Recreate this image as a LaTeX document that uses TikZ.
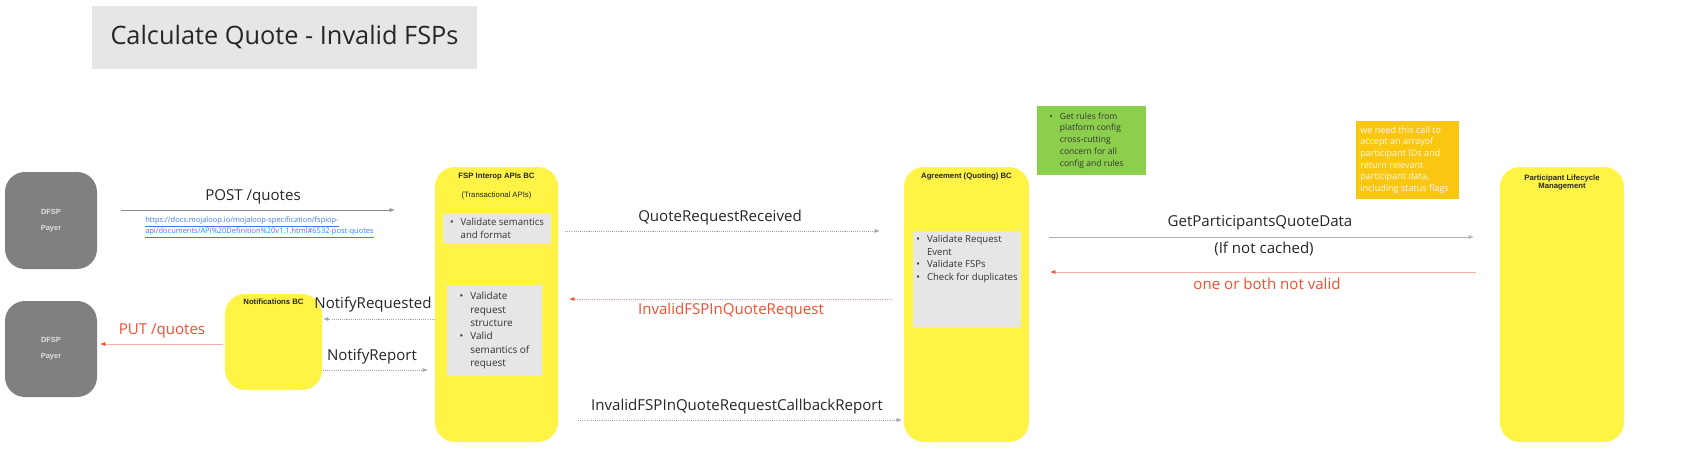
\documentclass[tikz,border=0pt]{standalone}
\usepackage{fontspec}
\setmainfont{Open Sans}
\newfontfamily\arialfont{Liberation Sans}
\usetikzlibrary{arrows.meta}
\definecolor{bcyellow}{HTML}{FFF345}
\definecolor{dfspgrey}{HTML}{808080}
\definecolor{checkgrey}{HTML}{E6E6E6}
\definecolor{rulegreen}{HTML}{8CCF4D}
\definecolor{noteorange}{HTML}{F9C712}
\definecolor{notetext}{HTML}{FFF8E8}
\definecolor{flowred}{HTML}{F04E31}
\definecolor{flowpink}{HTML}{F7AFA6}
\definecolor{eventpink}{HTML}{E0508A}
\definecolor{linegrey}{HTML}{8C8C8C}
\definecolor{linkblue}{HTML}{3D7BEA}
\newlength\pxu
\setlength\pxu{0.75pt}
\newcommand\blt{\makebox[8pt][l]{\textbullet}}
\newcommand\bsk{\hspace*{8pt}}
\begin{document}
\begin{tikzpicture}[x=0.75pt,y=-0.75pt,
  bc/.style={fill=bcyellow,rounded corners=15pt,inner sep=0pt},
  dfsp/.style={fill=dfspgrey,rounded corners=15pt,inner sep=0pt,minimum width=92\pxu},
  dfsptext/.style={font=\arialfont\bfseries\fontsize{5.6}{6.5}\selectfont,text=white!88!black},
  bctitle/.style={font=\arialfont\bfseries\fontsize{5.8}{6.7}\selectfont,text=black!85,align=center},
  check/.style={fill=checkgrey,inner sep=0pt},
  bullets/.style={font=\fontsize{7.2}{9.5}\selectfont,text=black!80,align=left,inner sep=0pt},
  lbl/.style={font=\fontsize{11.3}{13.5}\selectfont,text=black!85,inner sep=0pt},
  redlbl/.style={lbl,text=flowred},
  flow/.style={draw=linegrey,line width=0.6pt,-{Latex[length=4pt,width=3pt]}},
  event/.style={flow,draw=linegrey!80,dash pattern=on 0.8pt off 0.8pt},
  reply/.style={draw=flowpink,line width=0.6pt,-{Latex[length=4pt,width=3pt,color=flowred]}},
  invalid/.style={reply,draw=eventpink!60,dash pattern=on 0.8pt off 0.8pt}]
\useasboundingbox (0,0) rectangle (1700,453);
\node[fill=checkgrey,minimum width=385\pxu,minimum height=63\pxu,font=\fontsize{19}{22}\selectfont,text=black!85] (title) at (284.5,37.5) {Calculate Quote - Invalid FSPs};
\node[dfsp,minimum height=97\pxu] (payer) at (51,220.5) {};
\node[dfsptext] (payerdfsp) at (51,212) {DFSP};
\node[dfsptext] (payername) at (51,229) {Payer};
\node[dfsp,minimum height=96\pxu] (payerback) at (51,349) {};
\node[dfsptext] (payerbackdfsp) at (51,340) {DFSP};
\node[dfsptext] (payerbackname) at (51,357) {Payer};
\node[bc,minimum width=97\pxu,minimum height=96\pxu] (notif) at (273.5,342) {};
\node[bctitle] (notiftitle) at (273.5,302) {Notifications BC};
\node[bc,minimum width=123\pxu,minimum height=275\pxu] (fspiop) at (496.5,304.5) {};
\node[bctitle] (fspioptitle) at (496.5,177) {FSP Interop APIs BC};
\node[bctitle,font=\arialfont\fontsize{5.8}{6.7}\selectfont] (fspiopsub) at (496.5,195) {(Transactional APIs)};
\node[check,minimum width=108\pxu,minimum height=29\pxu] (fspcheck) at (497,228.5) {};
\node[bullets] (fspchecktext) at (497,228.5) {\blt Validate semantics\\\bsk and format};
\node[check,minimum width=95\pxu,minimum height=91\pxu] (fspvalid) at (494.5,330.5) {};
\node[bullets,font=\fontsize{7.5}{10}\selectfont] (fspvalidtext) at (494.5,330.5) {\blt Validate\\\bsk request\\\bsk structure\\\blt Valid\\\bsk semantics of\\\bsk request};
\node[bc,minimum width=125\pxu,minimum height=275\pxu] (agree) at (966.5,304.5) {};
\node[bctitle] (agreetitle) at (966.5,177) {Agreement (Quoting) BC};
\node[check,minimum width=108\pxu,minimum height=96\pxu] (agreecheck) at (967,279) {};
\node[bullets,anchor=north] (agreechecktext) at (967,235) {\blt Validate Request\\\bsk Event\\\blt Validate FSPs\\\blt Check for duplicates};
\node[fill=rulegreen,minimum width=109\pxu,minimum height=69\pxu] (rules) at (1091.5,140.5) {};
\node[bullets,font=\fontsize{6.4}{8.9}\selectfont,anchor=west] (rulestext) at (1049,140.5) {\blt Get rules from\\\bsk platform config\\\bsk cross-cutting\\\bsk concern for all\\\bsk config and rules};
\node[fill=noteorange,minimum width=103\pxu,minimum height=78\pxu] (callnote) at (1407.5,160) {};
\node[bullets,font=\fontsize{6.8}{8.8}\selectfont,text=notetext,anchor=west] (callnotetext) at (1360,160) {we need this call to\\accept an arrayof\\participant IDs and\\return relevant\\participant data,\\including status flags};
\node[bc,minimum width=124\pxu,minimum height=275\pxu] (plm) at (1562,304.5) {};
\node[bctitle] (plmtitle) at (1562,182.5) {Participant Lifecycle\\Management};
\coordinate (postS) at (121,210);
\coordinate (postE) at (395,210);
\coordinate (qrrS) at (565,231);
\coordinate (qrrE) at (880,231);
\coordinate (ifqS) at (892,299);
\coordinate (ifqE) at (569,299);
\coordinate (nreqS) at (435,319);
\coordinate (nreqE) at (323,319);
\coordinate (nrepS) at (323,370);
\coordinate (nrepE) at (428,370);
\coordinate (putS) at (223,344);
\coordinate (putE) at (100,344);
\coordinate (cbS) at (578,420);
\coordinate (cbE) at (902,420);
\coordinate (gpqS) at (1049,237);
\coordinate (gpqE) at (1474,237);
\coordinate (nvS) at (1476,272);
\coordinate (nvE) at (1050,272);
\draw[flow] (postS) -- (postE);
\draw[event] (qrrS) -- (qrrE);
\draw[invalid] (ifqS) -- (ifqE);
\draw[event] (nreqS) -- (nreqE);
\draw[event] (nrepS) -- (nrepE);
\draw[reply] (putS) -- (putE);
\draw[event] (cbS) -- (cbE);
\draw[flow,draw=linegrey!70] (gpqS) -- (gpqE);
\draw[reply] (nvS) -- (nvE);
\node[lbl] (postlbl) at (253,197) {POST /quotes};
\node[font=\fontsize{5.6}{7.9}\selectfont,text=linkblue,align=left,anchor=north west,inner sep=0pt] (postlink) at (145,217) {\underline{https://docs.mojaloop.io/mojaloop-specification/fspiop-}\\\underline{api/documents/API\%20Definition\%20v1.1.html\#6532-post-quotes}};
\node[lbl] (qrrlbl) at (720,218) {QuoteRequestReceived};
\node[redlbl] (ifqlbl) at (731,311) {InvalidFSPInQuoteRequest};
\node[lbl] (nreqlbl) at (373,305) {NotifyRequested};
\node[lbl] (nreplbl) at (372,357) {NotifyReport};
\node[redlbl] (putlbl) at (162,331) {PUT /quotes};
\node[lbl] (cblbl) at (737,407) {InvalidFSPInQuoteRequestCallbackReport};
\node[lbl] (gpqlbl) at (1260,223) {GetParticipantsQuoteData};
\node[lbl] (gpqnote) at (1264,249) {(If not cached)};
\node[redlbl] (nvlbl) at (1267,284) {one or both not valid};
\end{tikzpicture}
\end{document}
